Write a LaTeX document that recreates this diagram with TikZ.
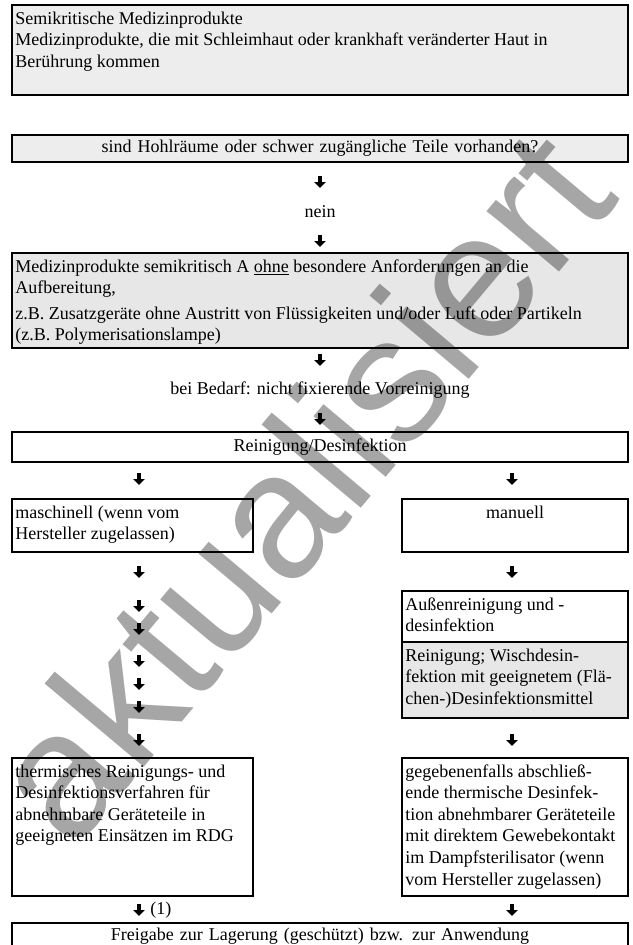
\documentclass[tikz,border=0pt]{standalone}
\usepackage{fontspec}
\setmainfont{Liberation Serif}
\setsansfont{Liberation Sans}
\usetikzlibrary{arrows.meta}

\definecolor{boxgrey}{gray}{0.93}
\definecolor{boxgreyb}{gray}{0.905}
\definecolor{wmgrey}{gray}{0.65}

% top aligned text in a box of fixed size
\newcommand{\cell}[3]{\parbox[t][#2][t]{#1}{\raggedright\strut#3}}
\newcommand{\ccell}[3]{\parbox[t][#2][t]{#1}{\centering\strut#3}}

\begin{document}
\begin{tikzpicture}[x=0.75pt,y=-0.75pt,
  every node/.style={font=\fontsize{13.5pt}{16.2pt}\selectfont},
  box/.style={draw, line width=1.4pt, anchor=north west, inner xsep=2.5pt, inner ysep=3pt, outer sep=0pt},
  shade/.style={box, fill=boxgrey},
  shadeb/.style={box, fill=boxgreyb},
  wide/.style={box, minimum width=462pt, text width=457pt, align=center},
  dnarrow/.style={line width=2.8pt, -{Triangle[width=8.5pt,length=4.5pt]}}]

  \useasboundingbox (0,0) rectangle (632,945);

  \node[shade] (semi) at (12,5) {\cell{457pt}{61.5pt}{Semikritische Medizinprodukte\\
    Medizinprodukte, die mit Schleimhaut oder krankhaft veränderter Haut in\\
    Berührung kommen}};
  \node[wide, fill=boxgrey, minimum height=20.25pt] (hohl) at (12,135) {sind Hohlräume oder schwer zugängliche Teile vorhanden?};
  \node (nein) at (320,212) {nein};
  \node[shadeb] (ohne) at (12,253) {\cell{457pt}{65.25pt}{Medizinprodukte semikritisch A \underline{ohne} besondere Anforderungen an die\\
    Aufbereitung,\par\vspace{3pt}\strut z.B. Zusatzgeräte ohne Austritt von Flüssigkeiten und/oder Luft oder Partikeln\\
    (z.B. Polymerisationslampe)}};
  \node (bedarf) at (320,390) {bei Bedarf: nicht fixierende Vorreinigung};
  \node[wide, minimum height=22.5pt] (reinig) at (12,432) {Reinigung/Desinfektion};

  \node[box] (masch) at (12,499) {\cell{175.75pt}{33.75pt}{maschinell (wenn vom\\Hersteller zugelassen)}};
  \node[box] (manuell) at (402,499) {\ccell{164.5pt}{33.75pt}{manuell}};
  \node[box] (aussen) at (402,591) {\cell{164.5pt}{32.25pt}{Außenreinigung und -\\desinfektion}};
  \node[shadeb] (wisch) at (aussen.south west) {\cell{164.5pt}{51pt}{Reinigung; Wischdesin-\\
    fektion mit geeignetem (Flä-\\chen-)Desinfektionsmittel}};
  \node[box] (therm) at (12,758) {\cell{175.75pt}{97.5pt}{thermisches Reinigungs- und\\
    Desinfektionsverfahren für\\abnehmbare Geräteteile in\\geeigneten Einsätzen im RDG}};
  \node[box] (gegeb) at (402,758) {\cell{164.5pt}{97.5pt}{gegebenenfalls abschließ-\\
    ende thermische Desinfek-\\tion abnehmbarer Geräteteile\\mit direktem Gewebekontakt\\
    im Dampfsterilisator (wenn\\vom Hersteller zugelassen)}};
  \node (fn) at (150,910) [anchor=west, inner sep=0pt] {(1)};
  \node[wide, minimum height=20.25pt] (frei) at (12,923) {Freigabe zur Lagerung (geschützt) bzw. zur Anwendung};

  % arrows
  \foreach \n/\x/\y in {c1/320/182, c2/320/241, c3/320/360, c4/320/419,
      l0/139/479, r0/512/479, r1/512/572, r2/512/740, r3/512/910, l8/139/910}
  {
    \coordinate (\n) at (\x,\y);
    \draw[dnarrow] ([yshift=4.5pt]\n) -- ([yshift=-4.5pt]\n);
  }
  \foreach \y [count=\i] in {572,606,629,661,684,707,740}
  {
    \coordinate (l\i) at (139,\y);
    \draw[dnarrow] ([yshift=4.5pt]l\i) -- ([yshift=-4.5pt]l\i);
  }

  % watermark
  \begin{scope}[blend mode=multiply]
    \node[rotate=50, text=wmgrey, font=\fontsize{134pt}{134pt}\sffamily] (wm) at (298,484) {aktualisiert};
  \end{scope}
\end{tikzpicture}
\end{document}
